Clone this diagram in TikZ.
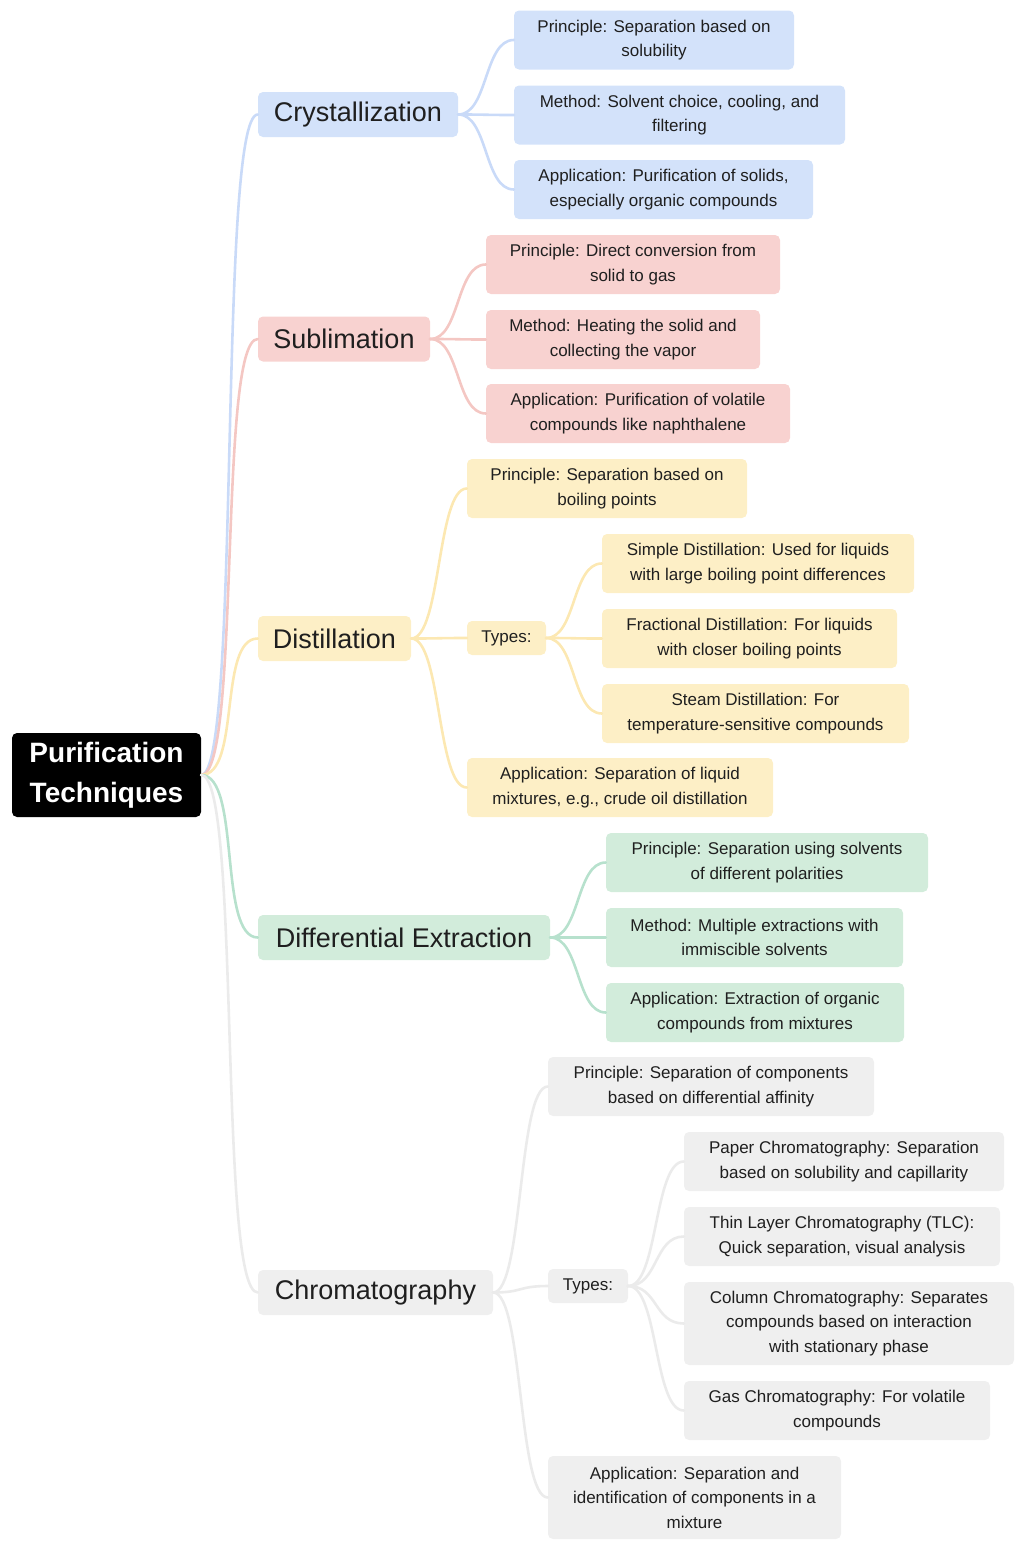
\documentclass[tikz,border=0pt]{standalone}
\usepackage{fontspec}
\setmainfont{Liberation Sans}
\definecolor{bF}{HTML}{D3E2FA}\definecolor{bE}{HTML}{C9DAF8}
\definecolor{rF}{HTML}{F8D2D0}\definecolor{rE}{HTML}{F4C7C3}
\definecolor{yF}{HTML}{FDEFC6}\definecolor{yE}{HTML}{FCE8B2}
\definecolor{gF}{HTML}{D2ECDB}\definecolor{gE}{HTML}{B7E1CD}
\definecolor{kF}{HTML}{EFEFEF}\definecolor{kE}{HTML}{EBEBEB}
\begin{document}
\begin{tikzpicture}[x=1pt,y=-1pt,
 box/.style={rounded corners=5pt,inner sep=0pt,align=center,text=black!88},
 leaf/.style={box,font=\fontsize{17}{24.5}\selectfont,minimum height=59pt},
 head/.style={box,font=\fontsize{27}{30}\selectfont,minimum height=45pt},
 ed/.style={line width=2.6pt,line cap=round}]
\useasboundingbox (0,0) rectangle (1024,1550);
\node[box,fill=black,text=white,font=\fontsize{28}{40}\selectfont\bfseries,minimum width=189pt,minimum height=84pt] (r) at (106.5,775) {Purification\\Techniques};
% Crystallization
\node[head,fill=bF,minimum width=200pt] (c) at (358,114.5) {Crystallization};
\node[leaf,fill=bF,minimum width=280pt] (c1) at (654,40) {Principle: Separation based on\\solubility};
\node[leaf,fill=bF,minimum width=331pt] (c2) at (679.5,115) {Method: Solvent choice, cooling, and\\filtering};
\node[leaf,fill=bF,minimum width=299pt] (c3) at (663.5,189.5) {Application: Purification of solids,\\especially organic compounds};
% Sublimation
\node[head,fill=rF,minimum width=172pt] (s) at (344,339) {Sublimation};
\node[leaf,fill=rF,minimum width=294pt] (s1) at (633,264.5) {Principle: Direct conversion from\\solid to gas};
\node[leaf,fill=rF,minimum width=274pt] (s2) at (623,339.5) {Method: Heating the solid and\\collecting the vapor};
\node[leaf,fill=rF,minimum width=304pt] (s3) at (638,413.5) {Application: Purification of volatile\\compounds like naphthalene};
% Distillation
\node[head,fill=yF,minimum width=153pt] (d) at (334.5,638.5) {Distillation};
\node[leaf,fill=yF,minimum width=280pt] (d1) at (607,488.5) {Principle: Separation based on\\boiling points};
\node[leaf,fill=yF,minimum width=79pt,minimum height=34pt] (dt) at (506.5,638) {Types:};
\node[leaf,fill=yF,minimum width=306pt] (d3) at (620,787.5) {Application: Separation of liquid\\mixtures, e.g., crude oil distillation};
\node[leaf,fill=yF,minimum width=312pt] (t1) at (758,563.5) {Simple Distillation: Used for liquids\\with large boiling point differences};
\node[leaf,fill=yF,minimum width=295pt] (t2) at (749.5,638.5) {Fractional Distillation: For liquids\\with closer boiling points};
\node[leaf,fill=yF,minimum width=307pt] (t3) at (755.5,713.5) {Steam Distillation: For\\temperature-sensitive compounds};
% Differential extraction
\node[head,fill=gF,minimum width=292pt] (e) at (404,937.5) {Differential Extraction};
\node[leaf,fill=gF,minimum width=322pt] (e1) at (767,862.5) {Principle: Separation using solvents\\of different polarities};
\node[leaf,fill=gF,minimum width=297pt] (e2) at (754.5,937.5) {Method: Multiple extractions with\\immiscible solvents};
\node[leaf,fill=gF,minimum width=298pt] (e3) at (755,1012.5) {Application: Extraction of organic\\compounds from mixtures};
% Chromatography
\node[head,fill=kF,minimum width=235pt] (k) at (375.5,1292.5) {Chromatography};
\node[leaf,fill=kF,minimum width=326pt] (k1) at (711,1086.5) {Principle: Separation of components\\based on differential affinity};
\node[leaf,fill=kF,minimum width=80pt,minimum height=34pt] (kt) at (588,1286) {Types:};
\node[leaf,fill=kF,minimum width=293pt,minimum height=83pt] (k3) at (694.5,1497.5) {Application: Separation and\\identification of components in a\\mixture};
\node[leaf,fill=kF,minimum width=320pt] (u1) at (844,1161.5) {Paper Chromatography: Separation\\based on solubility and capillarity};
\node[leaf,fill=kF,minimum width=316pt] (u2) at (842,1236.5) {Thin Layer Chromatography (TLC):\\Quick separation, visual analysis};
\node[leaf,fill=kF,minimum width=330pt,minimum height=83pt] (u3) at (849,1323.5) {Column Chromatography: Separates\\compounds based on interaction\\with stationary phase};
\node[leaf,fill=kF,minimum width=306pt] (u4) at (837,1410.5) {Gas Chromatography: For volatile\\compounds};
% edges
\begin{scope}[on background layer/.try]
\foreach \t/\c in {c/bE,s/rE,d/yE,e/gE,k/kE}
  \draw[ed,\c] (r.east) .. controls +(40,0) and +(-40,0) .. (\t.west);
\foreach \p/\l/\c in {c/c1/bE,c/c2/bE,c/c3/bE,s/s1/rE,s/s2/rE,s/s3/rE,d/d1/yE,d/dt/yE,d/d3/yE,dt/t1/yE,dt/t2/yE,dt/t3/yE,e/e1/gE,e/e2/gE,e/e3/gE,k/k1/kE,k/kt/kE,k/k3/kE,kt/u1/kE,kt/u2/kE,kt/u3/kE,kt/u4/kE}
  \draw[ed,\c] (\p.east) .. controls +(30,0) and +(-30,0) .. (\l.west);
\end{scope}
\end{tikzpicture}
\end{document}
